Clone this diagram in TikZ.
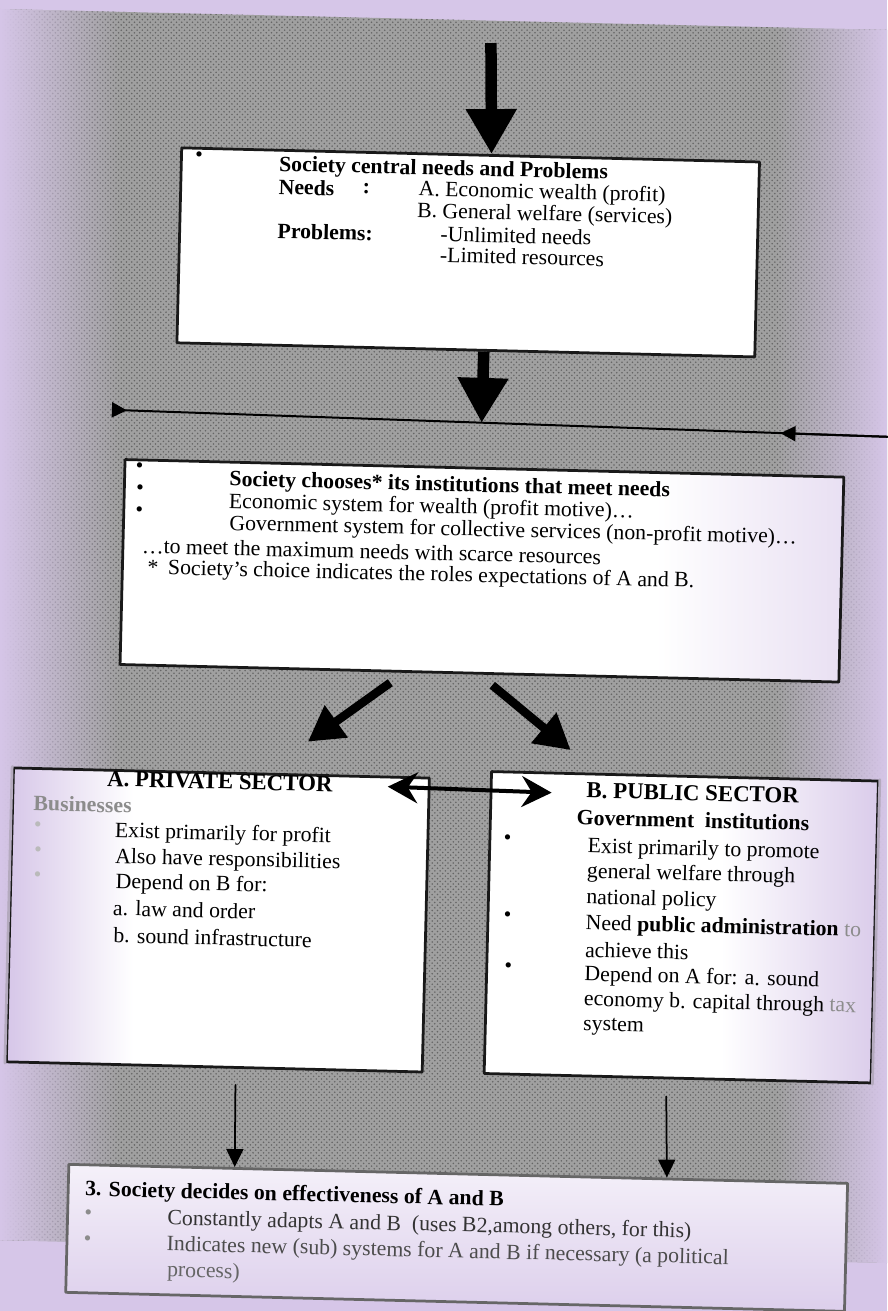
\documentclass[tikz,border=0pt]{standalone}
\usepackage{fontspec}
\setmainfont{Liberation Serif}
\usetikzlibrary{arrows.meta,calc,positioning,patterns,fadings}
\definecolor{lavender}{RGB}{214,198,232}
\definecolor{speckle}{RGB}{160,160,160}
\colorlet{faded}{black!45}
\pgfdeclarehorizontalshading{fadeleft}{100bp}{color(0bp)=(lavender); color(25bp)=(lavender); color(40bp)=(white); color(100bp)=(white)}
\pgfdeclarehorizontalshading{faderight}{100bp}{color(0bp)=(white); color(55bp)=(white); color(75bp)=(lavender!90!white); color(100bp)=(lavender!90!white)}
\pgfdeclarehorizontalshading{tintright}{100bp}{color(0bp)=(white); color(62bp)=(white); color(75bp)=(lavender!55!white); color(100bp)=(lavender!55!white)}
\begin{document}
\begin{tikzpicture}[x=0.02cm, y=-0.02cm, line cap=round, line join=round,
    font=\fontsize{12.4}{14}\selectfont,
    heading/.style={font=\fontsize{12.4}{14}\selectfont\bfseries},
    sector/.style={font=\fontsize{13}{14}\selectfont\bfseries},
    panel/.style={draw=black!90, line width=0.055cm, fill=white, inner sep=0pt, anchor=north west},
    boxsize/.style 2 args={minimum width=#1*0.02cm, minimum height=#2*0.02cm},
    txt/.style={anchor=west, inner sep=0pt},
    bul/.style={inner sep=0pt},
    bigarrow/.style={line width=0.23cm, line cap=butt, -{Triangle[width=0.96cm,length=0.9cm]}},
    midarrow/.style={line width=0.17cm, line cap=butt, -{Triangle[width=0.75cm,length=0.7cm]}},
    duoarrow/.style={line width=0.08cm, {Stealth[length=0.6cm,width=0.62cm,inset=0.2cm]}-{Stealth[length=0.6cm,width=0.62cm,inset=0.2cm]}},
    smallarrow/.style={line width=0.035cm, -{Triangle[width=0.34cm,length=0.36cm]}},
    rule/.style={line width=0.04cm}]
  \useasboundingbox (0,0) rectangle (887,1311);
  %--- page and scanned backdrop
  \fill[lavender] (0,0) rectangle (887,1311);
  \fill[speckle] (0,9) -- (887,30) -- (887,1263) -- (0,1240) -- cycle;
  \fill[pattern=crosshatch dots, pattern color=black!60] (0,9) -- (887,30) -- (887,1263) -- (0,1240) -- cycle;
  \begin{scope}
    \clip (0,9) -- (887,30) -- (887,1263) -- (0,1240) -- cycle;
    \fill[lavender, path fading=east] (0,0) rectangle (120,1311);
    \fill[lavender, path fading=west] (775,0) rectangle (887,1311);
  \end{scope}
  \begin{scope}[rotate around={-1.4:(443,655)}, transform shape]
  %--- Society central needs
    \node[panel, boxsize={578}{195}] (needs) at (168,153) {};
    \node[bul] (needsdot) at (187,163) {\textbullet};
    \node[txt, heading] (needstitle) at (267,170) {Society central needs and Problems};
    \node[txt, heading] (needslabel) at (267,191) {Needs};
    \node[txt, heading] (needscolon) at (351,191) {:};
    \node[txt] (needsA) at (407,191) {A. Economic wealth (profit)};
    \node[txt] (needsB) at (406,213) {B. General welfare (services)};
    \node[txt, heading] (problabel) at (267,235) {Problems:};
    \node[txt] (probA) at (430,234) {-Unlimited needs};
    \node[txt] (probB) at (430,255) {-Limited resources};
  %--- Society chooses
    \node[panel, shading=tintright, boxsize={719}{205}] (choice) at (119,466) {};
    \node[bul] (choicedotA) at (135,475) {\textbullet};
    \node[bul] (choicedotB) at (136,497) {\textbullet};
    \node[bul] (choicedotC) at (136,519) {\textbullet};
    \node[txt, heading] (choicetitle) at (225,486) {Society chooses* its institutions that meet needs};
    \node[txt] (choiceA) at (225,508) {Economic system for wealth (profit motive)\ldots};
    \node[txt] (choiceB) at (226,530) {Government system for collective services (non-profit motive)\ldots};
    \node[txt] (choiceC) at (139,553) {\ldots{}to meet the maximum needs with scarce resources};
    \node[txt] (choiceD) at (145,576) {*\hspace{0.45em}Society’s choice indicates the roles expectations of A and B.};
  %--- A. Private sector
    \node[panel, shading=fadeleft, boxsize={416}{294}] (private) at (15,777) {};
    \draw[line width=0.055cm, lavender!60!gray] (private.north west) -- (private.south west);
    \node[bul, sector] (privtitle) at (223,787) {A. PRIVATE SECTOR};
    \node[txt, heading, text=faded] (privsub) at (37,813) {Businesses};
    \node[bul, text=faded!60] (privdotA) at (42,837) {\textbullet};
    \node[bul, text=faded!60] (privdotB) at (43,862) {\textbullet};
    \node[bul, text=faded!60] (privdotC) at (43,887) {\textbullet};
    \node[txt] (privA) at (119,840) {Exist primarily for profit};
    \node[txt] (privB) at (120,866) {Also have responsibilities};
    \node[txt] (privC) at (121,891) {Depend on B for:};
    \node[txt] (privD) at (119,916) {a. law and order};
    \node[txt] (privE) at (120,943) {b. sound infrastructure};
  %--- B. Public sector
    \node[panel, shading=faderight, boxsize={387}{302}] (public) at (493,769) {};
    \draw[line width=0.055cm, lavender!60!gray] (public.north east) -- (public.south east);
    \node[bul, sector] (pubtitle) at (696,787) {B. PUBLIC SECTOR};
    \node[bul, heading] (pubsub) at (697,814) {Government\ \ institutions};
    \node[bul] (pubdotA) at (512,838) {\textbullet};
    \node[bul] (pubdotB) at (514,915) {\textbullet};
    \node[bul] (pubdotC) at (516,966) {\textbullet};
    \node[txt] (pubA) at (592,844) {Exist primarily to promote};
    \node[txt] (pubB) at (592,869) {general welfare through};
    \node[txt] (pubC) at (592,895) {national policy};
    \node[txt] (pubD) at (592,921) {Need \textbf{public administration} \textcolor{faded}{to}};
    \node[txt] (pubE) at (592,946) {achieve this};
    \node[txt] (pubF) at (592,972) {Depend on A for: a. sound};
    \node[txt] (pubG) at (592,997) {economy b. capital through \textcolor{faded}{tax}};
    \node[txt] (pubH) at (592,1023) {system};
  %--- 3. Society decides
    \node[panel, draw=black!60, top color=lavender!25!white, bottom color=lavender!85!white, boxsize={779}{128}] (verdict) at (80,1172) {};
    \node[txt, heading] (verdicttitle) at (98,1199) {3. Society decides on effectiveness of A and B};
    \node[bul, text=faded] (verdictdotA) at (102,1223) {\textbullet};
    \node[bul, text=faded] (verdictdotB) at (102,1249) {\textbullet};
    \node[txt, text=black!80] (verdictA) at (181,1226) {Constantly adapts A and B\ \ (uses B2,among others, for this)};
    \node[txt, text=black!70] (verdictB) at (181,1252) {Indicates new (sub) systems for A and B if necessary (a political};
    \node[txt, text=black!60] (verdictC) at (182,1278) {process)};
  %--- connectors
    \coordinate (feed) at (476,42);
    \coordinate (lineL) at (106,418);
    \coordinate (lineR) at (882,426);
    \coordinate (lineM) at (775,425);
    \coordinate (split) at (476,422);
    \coordinate (forkL) at (391,684);
    \coordinate (forkR) at (493,684);
    \coordinate (landA) at (310,745);
    \coordinate (landB) at (573,747);
    \coordinate (linkA) at (391,788);
    \coordinate (linkB) at (555,790);
    \coordinate (dropA) at (246,1090);
    \coordinate (dropB) at (677,1091);
    \draw[bigarrow] (feed) -- ($(needs.north west)!0.536!(needs.north east)$);
    \draw[bigarrow] ($(needs.south west)!0.531!(needs.south east)$) -- (split);
    \draw[rule, {Triangle[reversed,width=0.3cm,length=0.3cm]}-] (lineL) -- (lineR);
    \draw[rule, -{Triangle[width=0.3cm,length=0.3cm]}] (lineR) -- (lineM);
    \draw[midarrow] (forkL) -- (landA);
    \draw[midarrow] (forkR) -- (landB);
    \draw[duoarrow] (linkA) -- (linkB);
    \draw[smallarrow] (dropA) -- ($(verdict.north west)!0.214!(verdict.north east)$);
    \draw[smallarrow] (dropB) -- ($(verdict.north west)!0.767!(verdict.north east)$);
  \end{scope}
\end{tikzpicture}
\end{document}
